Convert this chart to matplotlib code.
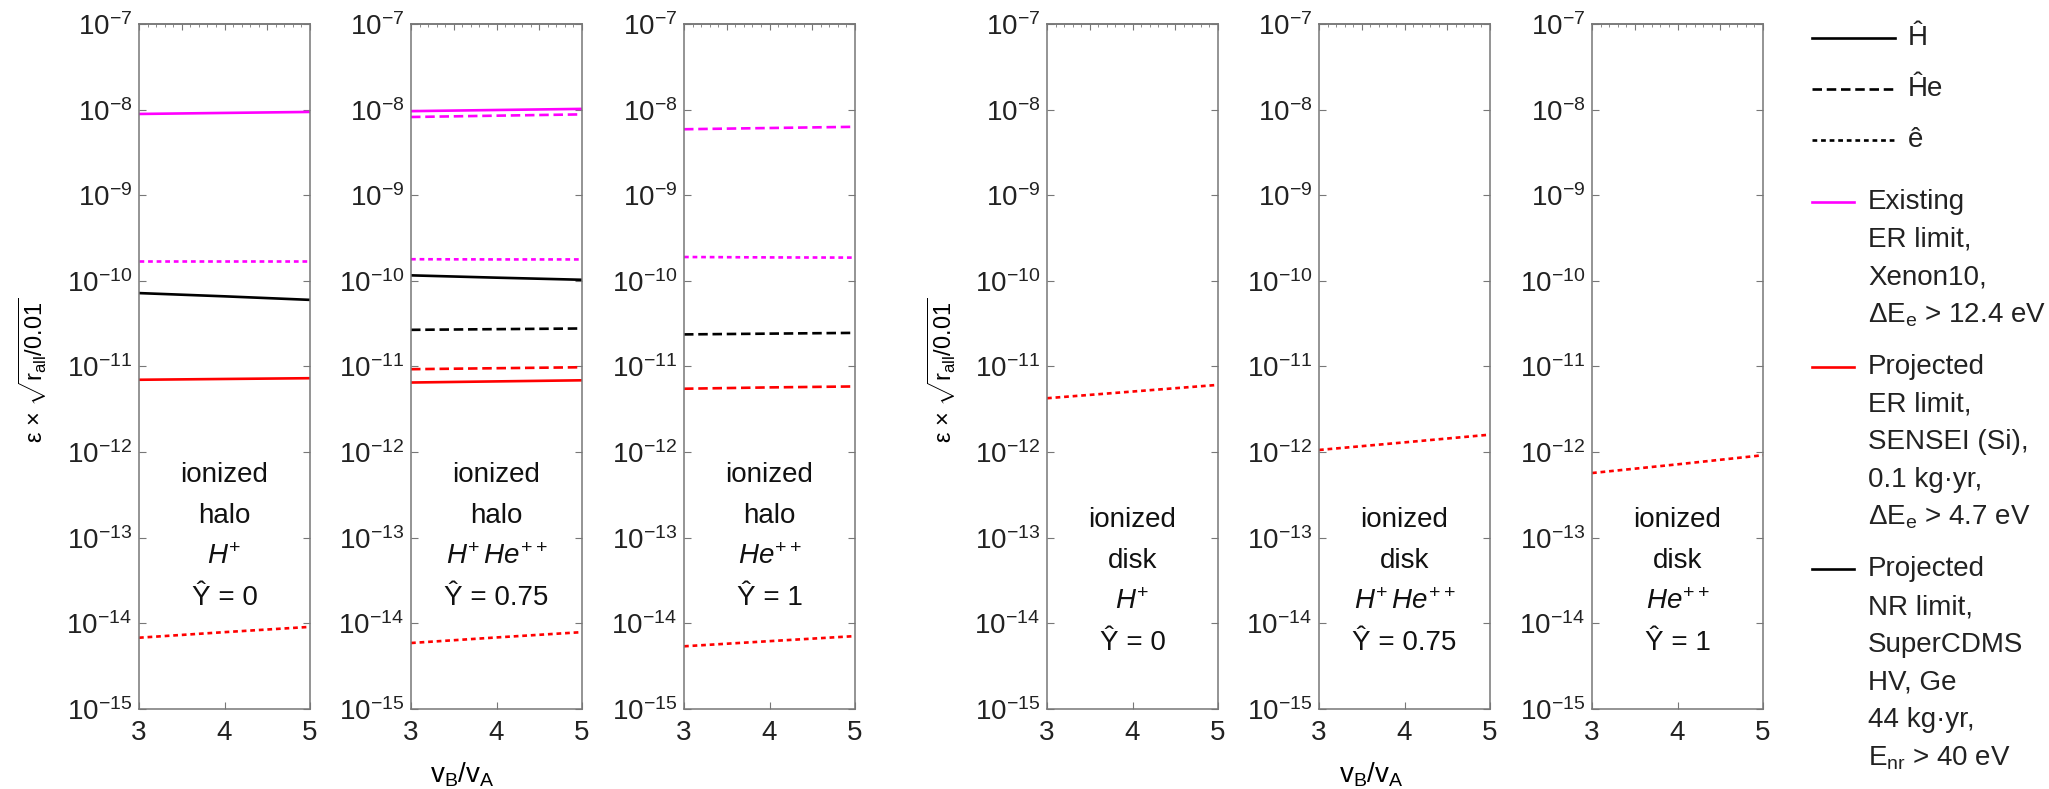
import matplotlib.pyplot as plt
from matplotlib.ticker import LogLocator, NullLocator, MultipleLocator, NullFormatter

plt.rcParams['font.family'] = ['Liberation Sans', 'DejaVu Sans']
plt.rcParams['mathtext.fontset'] = 'custom'
plt.rcParams['mathtext.rm'] = 'Liberation Sans'
plt.rcParams['mathtext.it'] = 'Liberation Sans:italic'
plt.rcParams['mathtext.bf'] = 'Liberation Sans:bold'

# x values: v_B / v_A
vB_vA = [3, 4, 5]

# ionized halo, H+ (Y = 0)
halo_H_xenon_H = [8.9e-9, 9.15e-9, 9.4e-9]
halo_H_xenon_e = [1.71e-10, 1.71e-10, 1.71e-10]
halo_H_cdms_H = [7.2e-11, 6.6e-11, 6.0e-11]
halo_H_sensei_H = [7.0e-12, 7.15e-12, 7.3e-12]
halo_H_sensei_e = [6.8e-15, 7.9e-15, 9.1e-15]

# ionized halo, H+ He++ (Y = 0.75)
halo_mix_xenon_H = [9.6e-9, 9.9e-9, 1.02e-8]
halo_mix_xenon_He = [8.2e-9, 8.5e-9, 8.8e-9]
halo_mix_xenon_e = [1.79e-10, 1.78e-10, 1.78e-10]
halo_mix_cdms_H = [1.16e-10, 1.09e-10, 1.03e-10]
halo_mix_cdms_He = [2.68e-11, 2.73e-11, 2.78e-11]
halo_mix_sensei_He = [9.3e-12, 9.55e-12, 9.8e-12]
halo_mix_sensei_H = [6.5e-12, 6.7e-12, 6.9e-12]
halo_mix_sensei_e = [5.9e-15, 6.85e-15, 7.9e-15]

# ionized halo, He++ (Y = 1)
halo_He_xenon_He = [5.9e-9, 6.1e-9, 6.3e-9]
halo_He_xenon_e = [1.9e-10, 1.88e-10, 1.87e-10]
halo_He_cdms_He = [2.37e-11, 2.42e-11, 2.47e-11]
halo_He_sensei_He = [5.5e-12, 5.7e-12, 5.85e-12]
halo_He_sensei_e = [5.4e-15, 6.2e-15, 7.1e-15]

# ionized disk
disk_H_sensei_e = [4.26e-12, 5.1e-12, 6.1e-12]
disk_mix_sensei_e = [1.06e-12, 1.3e-12, 1.6e-12]
disk_He_sensei_e = [5.7e-13, 7.2e-13, 9.2e-13]

MAG, RED, BLK = '#ff00ff', '#ff0000', '#000000'
SOLID = '-'
DASH = (0, (3.6, 1.8))
DOT = (0, (1.8, 1.45))

panels = [
    ([(halo_H_xenon_H, MAG, SOLID), (halo_H_xenon_e, MAG, DOT), (halo_H_cdms_H, BLK, SOLID),
      (halo_H_sensei_H, RED, SOLID), (halo_H_sensei_e, RED, DOT)],
     ['ionized', 'halo', r'$H^{+}$', 'Ŷ = 0']),
    ([(halo_mix_xenon_H, MAG, SOLID), (halo_mix_xenon_He, MAG, DASH), (halo_mix_xenon_e, MAG, DOT),
      (halo_mix_cdms_H, BLK, SOLID), (halo_mix_cdms_He, BLK, DASH), (halo_mix_sensei_He, RED, DASH),
      (halo_mix_sensei_H, RED, SOLID), (halo_mix_sensei_e, RED, DOT)],
     ['ionized', 'halo', r'$H^{+}\,He^{++}$', 'Ŷ = 0.75']),
    ([(halo_He_xenon_He, MAG, DASH), (halo_He_xenon_e, MAG, DOT), (halo_He_cdms_He, BLK, DASH),
      (halo_He_sensei_He, RED, DASH), (halo_He_sensei_e, RED, DOT)],
     ['ionized', 'halo', r'$He^{++}$', 'Ŷ = 1']),
    ([(disk_H_sensei_e, RED, DOT)], ['ionized', 'disk', r'$H^{+}$', 'Ŷ = 0']),
    ([(disk_mix_sensei_e, RED, DOT)], ['ionized', 'disk', r'$H^{+}\,He^{++}$', 'Ŷ = 0.75']),
    ([(disk_He_sensei_e, RED, DOT)], ['ionized', 'disk', r'$He^{++}$', 'Ŷ = 1']),
]

W, H = 2049, 789
fig = plt.figure(figsize=(W / 100, H / 100), dpi=100)

lefts = [139, 411, 684, 1047, 1319, 1592]
ax_w, ax_top, ax_bot = 171, 24, 709
note_top = [0.342, 0.342, 0.342, 0.276, 0.276, 0.276]
spine_c = '#777777'
FS = 20

for i, (series, note) in enumerate(panels):
    ax = fig.add_axes([lefts[i] / W, 1 - ax_bot / H, ax_w / W, (ax_bot - ax_top) / H])
    for vals, c, ls in series:
        ax.plot(vB_vA, vals, color=c, linestyle=ls, lw=1.9)
    ax.set_yscale('log')
    ax.set_ylim(1e-15, 1e-7)
    ax.set_xlim(3, 5)
    ax.yaxis.set_major_locator(LogLocator(base=10, numticks=20))
    ax.yaxis.set_minor_locator(NullLocator())
    ax.set_xticks([3, 4, 5])
    ax.tick_params(axis='y', direction='in', length=5, right=True, labelsize=FS, pad=5,
                   color=spine_c, labelcolor='#222222')
    ax.tick_params(axis='x', direction='in', length=5, top=False, labelsize=FS, pad=8,
                   color=spine_c, labelcolor='#222222')
    for s in ax.spines.values():
        s.set_color(spine_c)
        s.set_linewidth(1.1)
    sec = ax.secondary_xaxis('top')
    sec.xaxis.set_major_locator(MultipleLocator(0.5))
    sec.xaxis.set_minor_locator(MultipleLocator(0.1))
    sec.xaxis.set_major_formatter(NullFormatter())
    sec.tick_params(which='major', direction='in', length=4, color=spine_c)
    sec.tick_params(which='minor', direction='in', length=2.5, color=spine_c)
    sec.spines['top'].set_color(spine_c)
    sec.spines['top'].set_linewidth(1.1)
    for k, line in enumerate(note):
        ax.text(0.5, note_top[i] - 0.06 * k, line, transform=ax.transAxes, ha='center',
                va='center', fontsize=FS, color='#111111')

ylab = r'ε × $\sqrt{\mathrm{r_{all}}/0.01}$'
for xp in [33, 942]:
    fig.text(xp / W, 1 - 370 / H, ylab, rotation=90, ha='center', va='center', fontsize=17)
for xp in [462, 1371]:
    fig.text(xp / W, 1 - 775 / H, r'v$_\mathrm{B}$/v$_\mathrm{A}$', ha='center', va='center',
             fontsize=FS)

# legend drawn in a pixel-coordinate overlay
leg = fig.add_axes([0, 0, 1, 1])
leg.set_xlim(0, W)
leg.set_ylim(H, 0)
leg.axis('off')

type_labels = ['Ĥ', 'Ĥe', 'ê']
type_styles = [SOLID, DASH, DOT]
for k, (lab, ls) in enumerate(zip(type_labels, type_styles)):
    y = 38 + 51 * k
    leg.plot([1812, 1895], [y, y], color=BLK, linestyle=ls, lw=1.9)
    leg.text(1908, y, lab, ha='left', va='center', fontsize=FS, color='#222222')

limit_labels = [
    ['Existing', 'ER limit,', 'Xenon10,', r'$\Delta$E$_\mathrm{e}$ > 12.4 eV'],
    ['Projected', 'ER limit,', 'SENSEI (Si),', '0.1 kg·yr,', r'$\Delta$E$_\mathrm{e}$ > 4.7 eV'],
    ['Projected', 'NR limit,', 'SuperCDMS', 'HV, Ge', '44 kg·yr,', r'E$_\mathrm{nr}$ > 40 eV'],
]
limit_colors = [MAG, RED, BLK]
y = 202
for lines, c in zip(limit_labels, limit_colors):
    leg.plot([1812, 1854], [y, y], color=c, lw=1.9)
    for line in lines:
        leg.text(1868, y, line, ha='left', va='center', fontsize=FS, color='#222222')
        y += 37.7
    y += 14

fig.savefig('out.png', dpi=100)
